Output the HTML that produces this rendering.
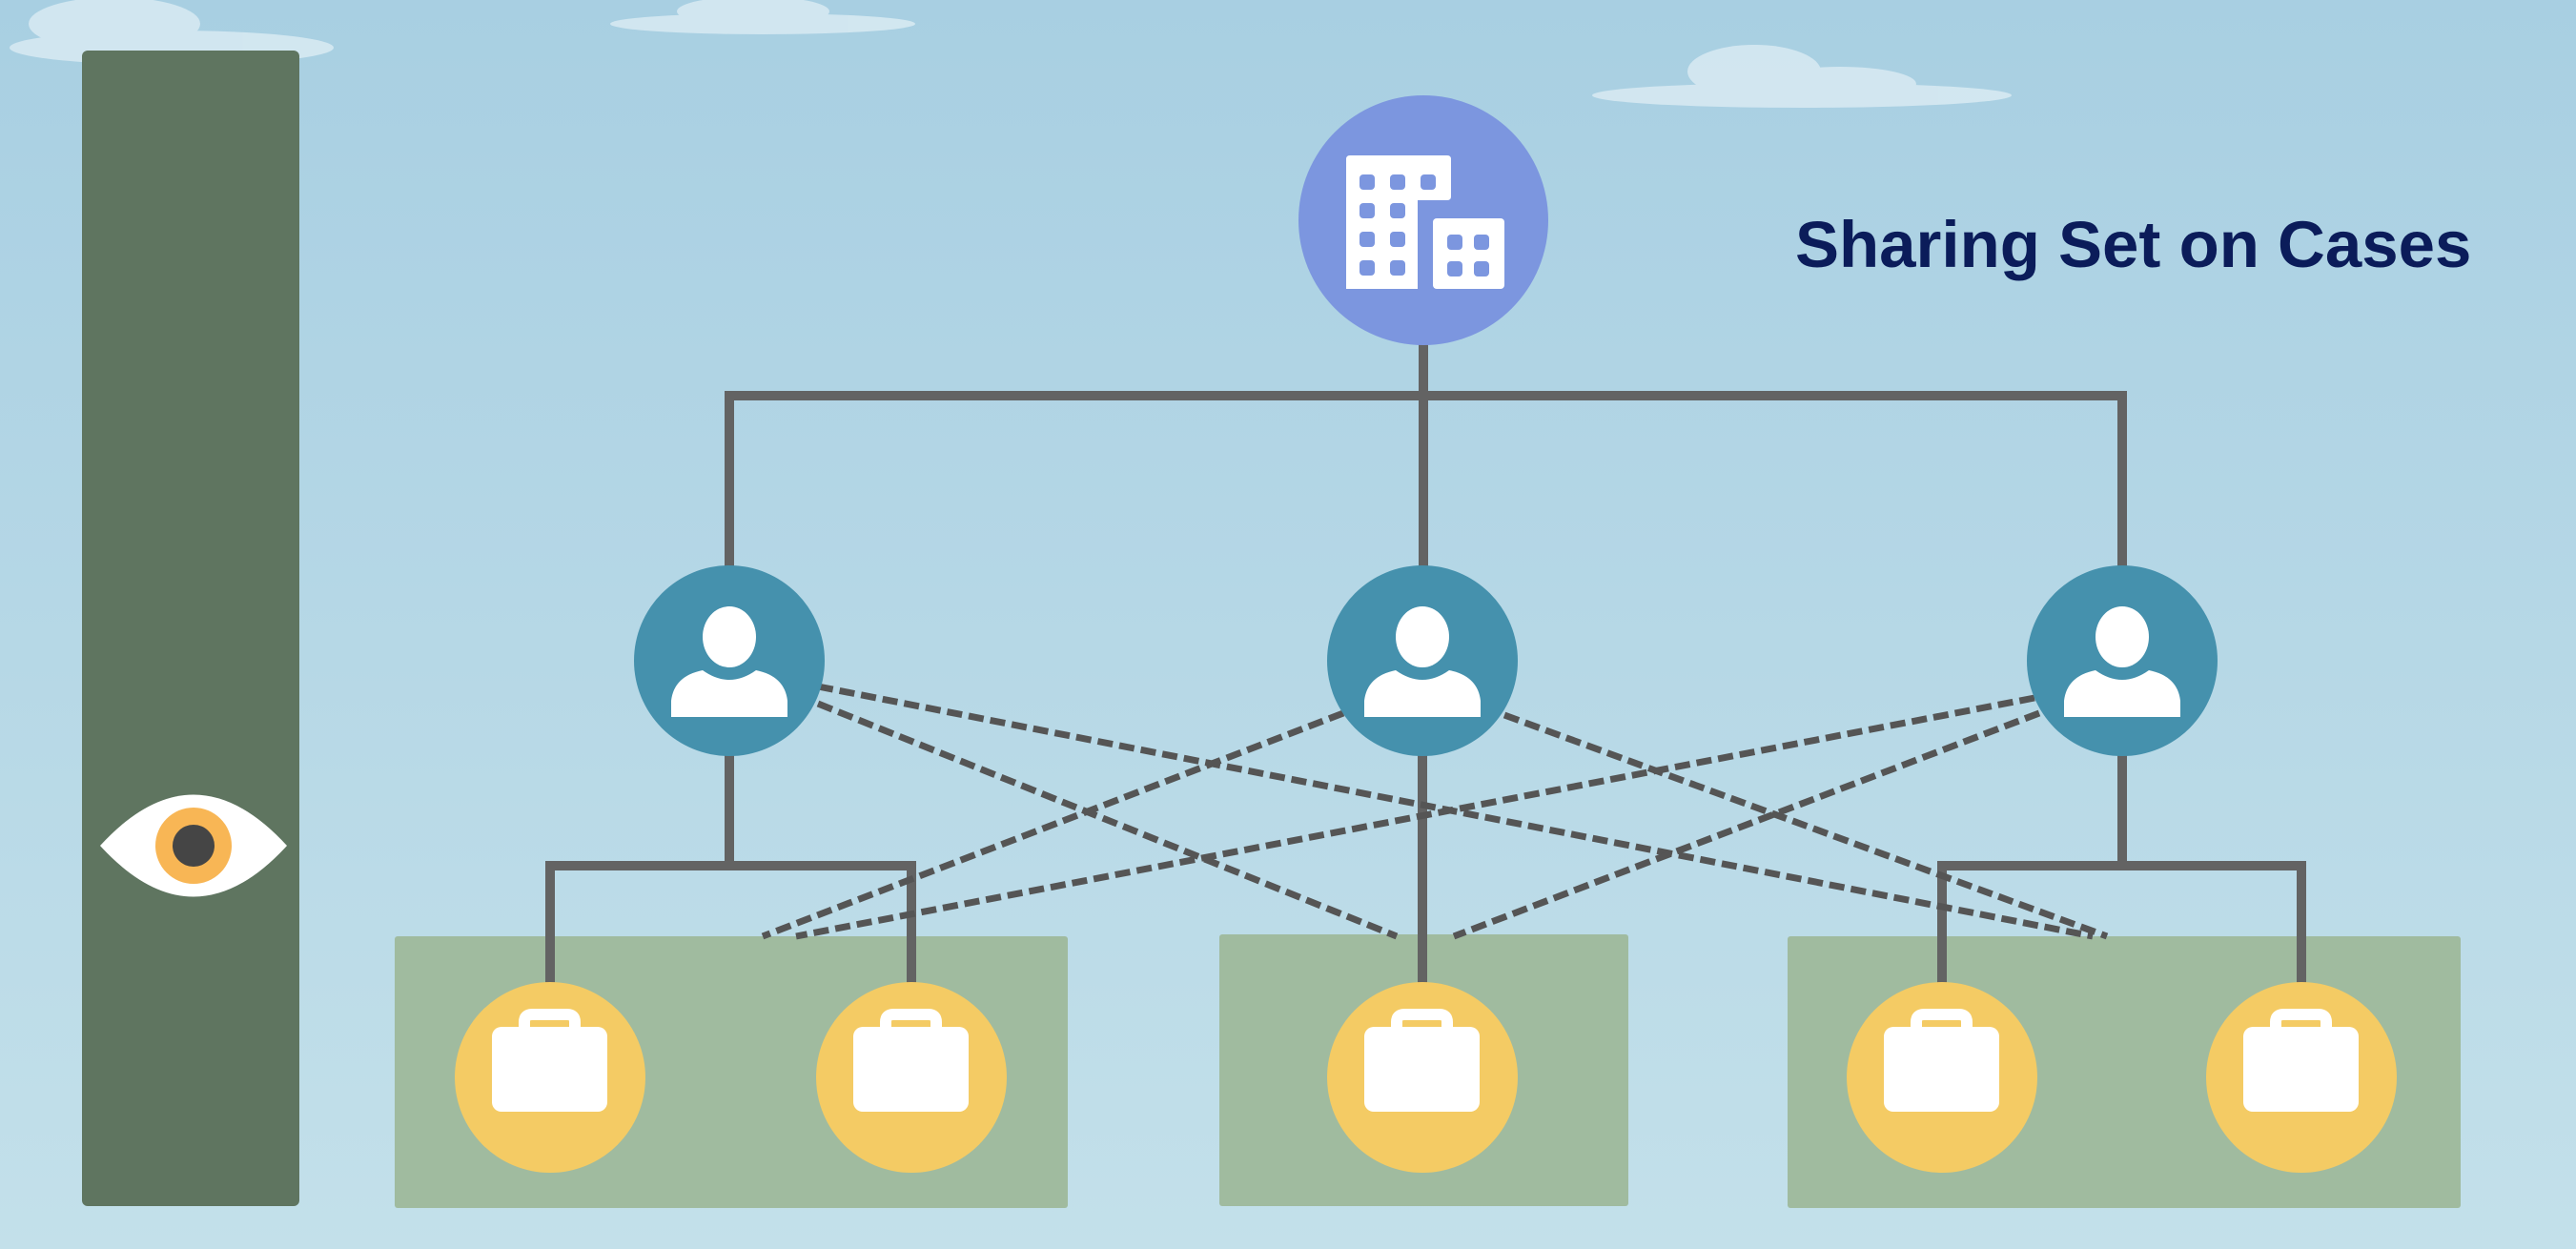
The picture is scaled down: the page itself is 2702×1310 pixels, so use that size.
<!DOCTYPE html>
<html><head><meta charset="utf-8"><style>
html,body{margin:0;padding:0;}
body{width:2702px;height:1310px;overflow:hidden;background:linear-gradient(#a9cfe2,#c3e0ea);}
svg{display:block}
</style></head><body>
<svg width="2702" height="1310" viewBox="0 0 2702 1310" xmlns="http://www.w3.org/2000/svg">
<defs>
<linearGradient id="sky" x1="0" y1="0" x2="0" y2="1"><stop offset="0" stop-color="#a8cfe2"/><stop offset="1" stop-color="#c3e0ea"/></linearGradient>
<g id="person"><ellipse cx="0" cy="-25" rx="28" ry="32" fill="#fff"/><path d="M-61 59 L-61 42 Q-58 16 -28 10 Q0 30 28 10 Q58 16 61 42 L61 59 Z" fill="#fff"/></g>
<g id="case"><rect x="-61" y="-53" width="121" height="89" rx="10" fill="#fff"/><path d="M-27 -46 L-27 -58 Q-27 -66 -19 -66 L18 -66 Q26 -66 26 -58 L26 -46" fill="none" stroke="#fff" stroke-width="12"/></g>
</defs>
<rect width="2702" height="1310" fill="url(#sky)"/>
<!-- clouds -->
<g fill="#dcecf4" opacity="0.8">
<ellipse cx="180" cy="50" rx="170" ry="18"/><ellipse cx="120" cy="25" rx="90" ry="28"/>
<ellipse cx="800" cy="25" rx="160" ry="11"/><ellipse cx="790" cy="12" rx="80" ry="16"/>
<ellipse cx="1890" cy="100" rx="220" ry="13"/><ellipse cx="1840" cy="75" rx="70" ry="28"/><ellipse cx="1930" cy="88" rx="80" ry="18"/>
</g>
<!-- left bar -->
<rect x="86" y="53" width="228" height="1212" rx="6" fill="#5f7560"/>
<path d="M105 887 Q203 780 301 887 Q203 994 105 887 Z" fill="#fff"/>
<circle cx="203" cy="887" r="40" fill="#f8b655"/>
<circle cx="203" cy="887" r="22" fill="#454545"/>
<!-- green boxes -->
<rect x="414" y="982" width="706" height="285" rx="3" fill="#a0bb9f"/>
<rect x="1279" y="980" width="429" height="285" rx="3" fill="#a0bb9f"/>
<rect x="1875" y="982" width="706" height="285" rx="3" fill="#a0bb9f"/>
<!-- solid connectors -->
<g stroke="#636363" stroke-width="10" fill="none">
<path d="M1493 300 V693 M765 693 V415 H2226 V693"/>
<path d="M765 693 V908 M577 1129 V908 H956 V1129"/>
<path d="M1492 693 V1129"/>
<path d="M2226 693 V908 M2037 1129 V908 H2414 V1129"/>
</g>
<!-- dashed -->
<g stroke="#555" stroke-width="7" stroke-dasharray="16 7" fill="none">
<line x1="858" y1="720" x2="2195" y2="982"/>
<line x1="858" y1="738" x2="1465" y2="982"/>
<line x1="1409" y1="748" x2="800" y2="982"/>
<line x1="1578" y1="750" x2="2210" y2="982"/>
<line x1="2134" y1="732" x2="835" y2="982"/>
<line x1="2139" y1="748" x2="1525" y2="982"/>
</g>
<!-- building -->
<circle cx="1493" cy="231" r="131" fill="#7c96df"/>
<path d="M1416 163 H1518 Q1522 163 1522 167 V206 Q1522 210 1518 210 H1487 V303 H1412 V167 Q1412 163 1416 163 Z" fill="#fff"/>
<rect x="1503" y="229" width="75" height="74" rx="4" fill="#fff"/>
<g fill="#7c96df">
<rect x="1426" y="183" width="16" height="16" rx="4"/><rect x="1458" y="183" width="16" height="16" rx="4"/><rect x="1490" y="183" width="16" height="16" rx="4"/>
<rect x="1426" y="213" width="16" height="16" rx="4"/><rect x="1458" y="213" width="16" height="16" rx="4"/>
<rect x="1426" y="243" width="16" height="16" rx="4"/><rect x="1458" y="243" width="16" height="16" rx="4"/>
<rect x="1426" y="273" width="16" height="16" rx="4"/><rect x="1458" y="273" width="16" height="16" rx="4"/>
<rect x="1518" y="246" width="16" height="16" rx="4"/><rect x="1546" y="246" width="16" height="16" rx="4"/>
<rect x="1518" y="274" width="16" height="16" rx="4"/><rect x="1546" y="274" width="16" height="16" rx="4"/>
</g>
<!-- persons -->
<g fill="#4591ad"><circle cx="765" cy="693" r="100"/><circle cx="1492" cy="693" r="100"/><circle cx="2226" cy="693" r="100"/></g>
<use href="#person" x="765" y="693"/><use href="#person" x="1492" y="693"/><use href="#person" x="2226" y="693"/>
<!-- cases -->
<g fill="#f4cb64"><circle cx="577" cy="1130" r="100"/><circle cx="956" cy="1130" r="100"/><circle cx="1492" cy="1130" r="100"/><circle cx="2037" cy="1130" r="100"/><circle cx="2414" cy="1130" r="100"/></g>
<use href="#case" x="577" y="1130"/><use href="#case" x="956" y="1130"/><use href="#case" x="1492" y="1130"/><use href="#case" x="2037" y="1130"/><use href="#case" x="2414" y="1130"/>
<text x="1883" y="280" font-family="Liberation Sans, sans-serif" font-size="69" font-weight="bold" fill="#0b1c5a">Sharing Set on Cases</text>
</svg>
</body></html>
